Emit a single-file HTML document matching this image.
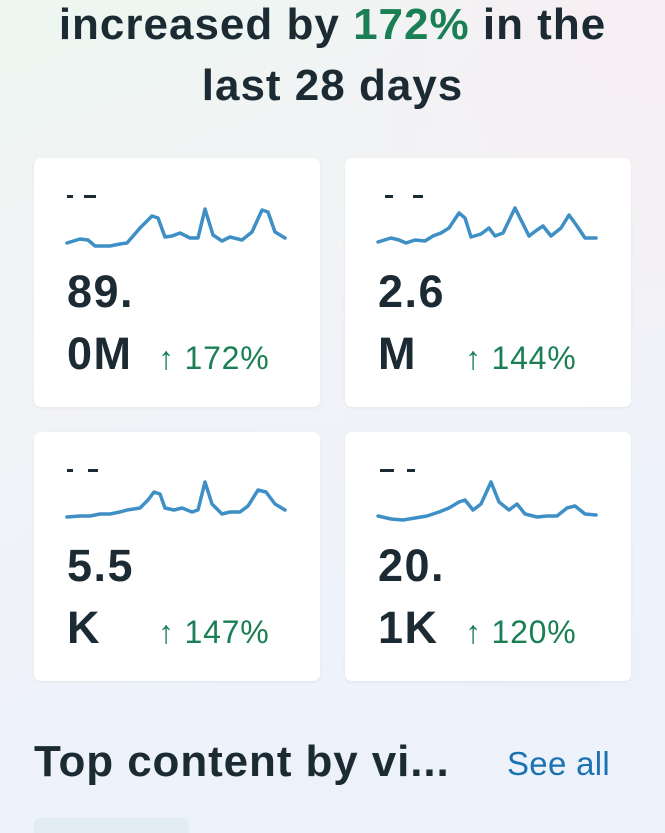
<!DOCTYPE html><html><head><style>
html,body{margin:0;width:665px;height:833px;overflow:hidden}
body{font-family:"Liberation Sans",sans-serif;
background:linear-gradient(160deg,#eef6f1 0%,#f2f3f7 40%,#eef2fa 70%,#ecf2fb 100%);position:relative}
.bg2{position:absolute;right:0;top:0;width:400px;height:400px;background:radial-gradient(circle at 100% 0%,#f7eef3 0%,rgba(247,238,243,0) 70%)}
.h{position:absolute;left:0;width:665px;text-align:center;font-size:44px;font-weight:bold;color:#1c2b33;letter-spacing:1px}
.card{position:absolute;width:286px;height:249px;background:#fff;border-radius:7px;box-shadow:0 1px 3px rgba(0,0,0,0.06)}
.n{position:absolute;left:33px;font-size:45px;font-weight:bold;color:#1c2b33;letter-spacing:1.5px}
.p{position:absolute;font-size:32px;color:#1a7f55;letter-spacing:0.8px}
.d{position:absolute;top:37px;height:3px;background:#1c2b33}
svg{position:absolute;left:0;top:0}
</style></head><body><div class="bg2"></div>
<div class="h" style="top:0px">increased by <span style="color:#1a7f55">172%</span> in the</div>
<div class="h" style="top:61px">last 28 days</div>

<div class="card" style="left:34px;top:158px">
<div class="d" style="left:33px;width:6px"></div><div class="d" style="left:50px;width:12px"></div>
<svg width="286" height="249"><polyline fill="none" stroke="#3d8fc6" stroke-width="3.5" stroke-linejoin="round" stroke-linecap="round" points="33,85 46,81 54,82 61,88 76,88 86,86 93,85 106,70 118,58 124,60 131,79 138,78 146,75 156,80 164,80 171,51 179,77 188,83 196,79 208,82 218,74 228,52 234,54 241,74 251,80"/></svg>
<div class="n" style="top:108px">89.</div><div class="n" style="top:170px">0M</div>
<div class="p" style="left:124px;top:182px">↑ 172%</div></div>

<div class="card" style="left:345px;top:158px">
<div class="d" style="left:40px;width:8px"></div><div class="d" style="left:68px;width:10px"></div>
<svg width="286" height="249"><polyline fill="none" stroke="#3d8fc6" stroke-width="3.5" stroke-linejoin="round" stroke-linecap="round" points="33,84 46,80 54,82 61,85 70,82 80,83 88,78 96,75 104,70 114,55 120,60 126,79 136,76 144,70 150,78 158,75 170,50 176,62 184,78 192,72 198,68 206,78 216,70 224,57 232,68 240,80 251,80"/></svg>
<div class="n" style="top:108px">2.6</div><div class="n" style="top:170px">M</div>
<div class="p" style="left:120px;top:182px">↑ 144%</div></div>

<div class="card" style="left:34px;top:432px">
<div class="d" style="left:33px;width:6px"></div><div class="d" style="left:54px;width:10px"></div>
<svg width="286" height="249"><polyline fill="none" stroke="#3d8fc6" stroke-width="3.5" stroke-linejoin="round" stroke-linecap="round" points="33,85 46,84 56,84 66,82 76,82 86,80 93,78 106,76 114,68 120,60 126,62 131,76 140,78 148,76 158,80 164,78 171,50 178,72 188,82 196,80 206,80 214,74 224,58 232,60 241,72 251,78"/></svg>
<div class="n" style="top:108px">5.5</div><div class="n" style="top:170px">K</div>
<div class="p" style="left:124px;top:182px">↑ 147%</div></div>

<div class="card" style="left:345px;top:432px">
<div class="d" style="left:35px;width:14px"></div><div class="d" style="left:62px;width:8px"></div>
<svg width="286" height="249"><polyline fill="none" stroke="#3d8fc6" stroke-width="3.5" stroke-linejoin="round" stroke-linecap="round" points="33,84 46,87 58,88 70,86 82,84 94,80 104,76 114,70 120,68 128,78 136,72 146,50 154,70 164,78 172,72 180,82 192,85 202,84 212,84 222,76 230,74 240,82 251,83"/></svg>
<div class="n" style="top:108px">20.</div><div class="n" style="top:170px">1K</div>
<div class="p" style="left:120px;top:182px">↑ 120%</div></div>

<div style="position:absolute;left:34px;top:737px;font-size:44px;font-weight:bold;color:#1c2b33;letter-spacing:0.9px">Top content by vi...</div>
<div style="position:absolute;left:507px;top:745px;font-size:33px;color:#1a73b0;letter-spacing:0.3px">See all</div>
<div style="position:absolute;left:34px;top:818px;width:155px;height:30px;border-radius:6px;background:#e1ecf5"></div>
</body></html>
